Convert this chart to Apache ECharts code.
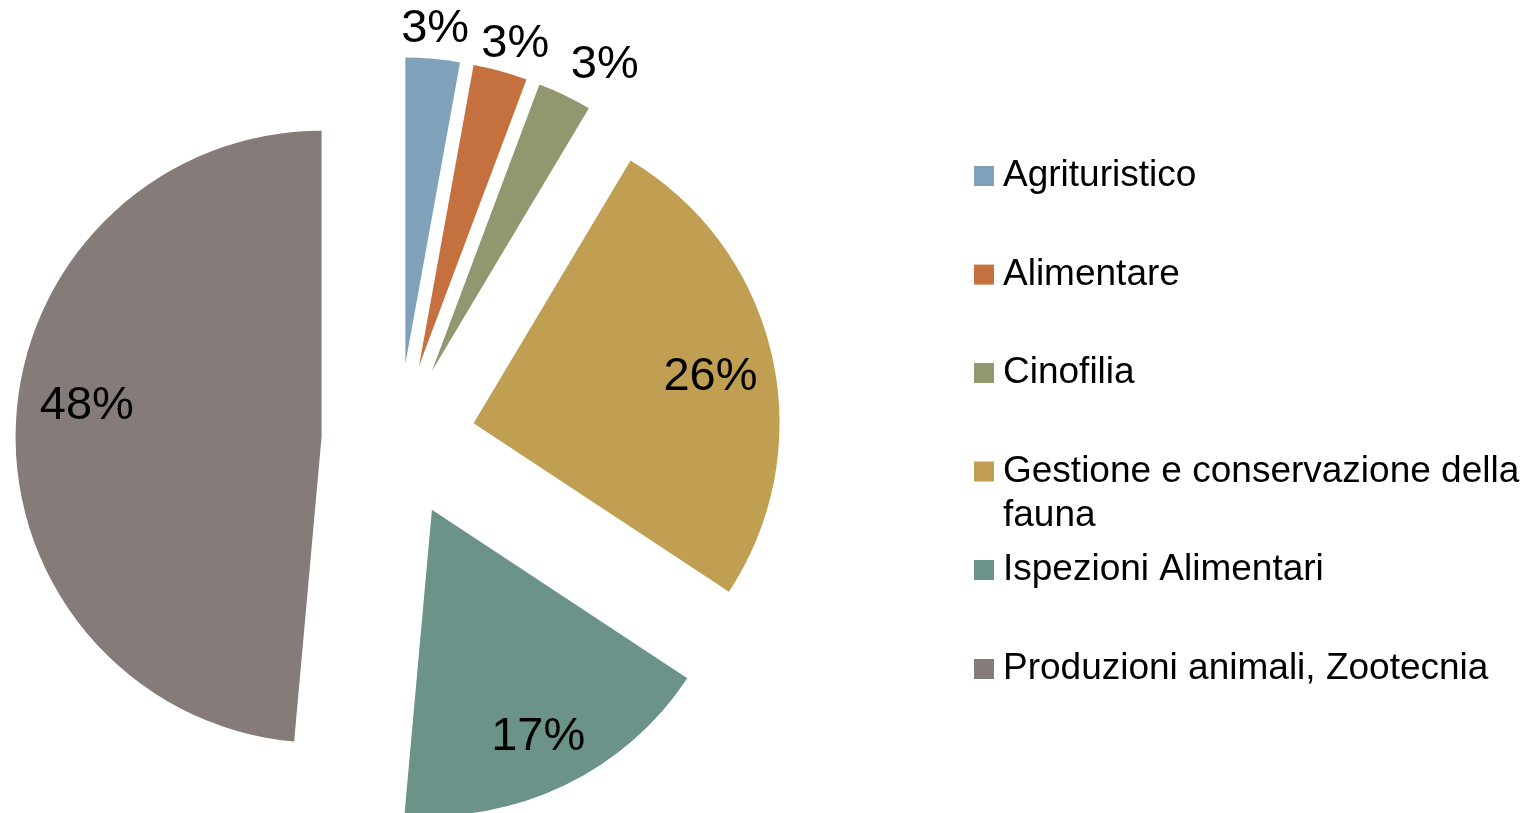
<!DOCTYPE html>
<html>
<head>
<meta charset="utf-8">
<script src="https://cdn.jsdelivr.net/npm/echarts@6/dist/echarts.min.js"></script>
<style>
  html, body { margin: 0; padding: 0; background: #fff; }
  #chart { width: 1539px; height: 813px; }
</style>
</head>
<body>
<div id="chart"></div>
<script>
// categorie e valori (conteggi)
var categories = [
  "Agrituristico",
  "Alimentare",
  "Cinofilia",
  "Gestione e conservazione della fauna",
  "Ispezioni Alimentari",
  "Produzioni animali, Zootecnia"
];
var values = [1, 1, 1, 9, 6, 17];
var colors = ["#7fa1ba", "#c5713f", "#939770", "#c09e52", "#6b9389", "#857b79"];
// etichette piccole fuori, grandi dentro
var smallLabel = [true, true, true, false, false, false];
// centro y dei marker della legenda
var legendRows = [176, 274.6, 373, 471.5, 570, 669];

var font = "'Liberation Sans', Arial, sans-serif";
var center = [398.5, 440.3];
var R = 306;
var offset = 77;

function pieData(styleFn) {
  return categories.map(function (name, i) {
    var d = { name: name, value: values[i], selected: true };
    styleFn(d, i);
    return d;
  });
}

var baseSeries = {
  type: "pie",
  center: center,
  startAngle: 90,
  clockwise: true,
  selectedMode: "multiple",
  selectedOffset: offset,
  percentPrecision: 0,
  avoidLabelOverlap: false,
  animation: false
};

// serie visibile
var mainSeries = Object.assign({}, baseSeries, {
  name: "main",
  z: 1,
  radius: [0, R],
  itemStyle: { borderWidth: 0 },
  label: { show: false },
  labelLine: { show: false },
  data: pieData(function (d, i) {
    d.itemStyle = { color: colors[i] };
  })
});

// serie trasparenti che portano solo le etichette
function labelSeries(name, radius, showFn, nudge) {
  return Object.assign({}, baseSeries, {
    name: name,
    z: 5,
    radius: radius,
    silent: true,
    itemStyle: { color: "rgba(0,0,0,0)", borderWidth: 0 },
    emphasis: { disabled: true },
    labelLine: { show: false },
    labelLayout: function (p) {
      var n = nudge[p.dataIndex] || [0, 0];
      return { hideOverlap: false, dx: n[0], dy: n[1] };
    },
    label: {
      show: true,
      position: "inside",
      formatter: "{d}%",
      color: "#000",
      fontFamily: font,
      fontSize: 47
    },
    data: pieData(function (d, i) {
      d.label = { show: showFn(i) };
    })
  });
}

var legends = categories.map(function (name, i) {
  var twoLines = name.length > 30;
  return {
    left: 974,
    top: legendRows[i] - (twoLines ? 66 : 22),
    padding: 0,
    selectedMode: false,
    icon: "rect",
    itemWidth: 20,
    itemHeight: 20,
    data: [name],
    formatter: function (n) {
      // riga vuota sopra: la prima riga resta allineata al marker
      return n === "Gestione e conservazione della fauna"
        ? "\nGestione e conservazione della\nfauna" : n;
    },
    textStyle: {
      fontFamily: font,
      fontSize: 37,
      color: "#000",
      lineHeight: 44,
      padding: [0, 0, 0, 4]
    }
  };
});

var chart = echarts.init(document.getElementById("chart"));
chart.setOption({
  backgroundColor: "#fff",
  legend: legends,
  series: [
    mainSeries,
    labelSeries("big", [178, R], function (i) { return !smallLabel[i]; },
      [null, null, null, [-2, 8], [0, 7], [10, -20]]),
    labelSeries("small", [320, 360], function (i) { return smallLabel[i]; },
      [[-1, 7], [5, 9], [24, 3]])
  ]
});
</script>
</body>
</html>
